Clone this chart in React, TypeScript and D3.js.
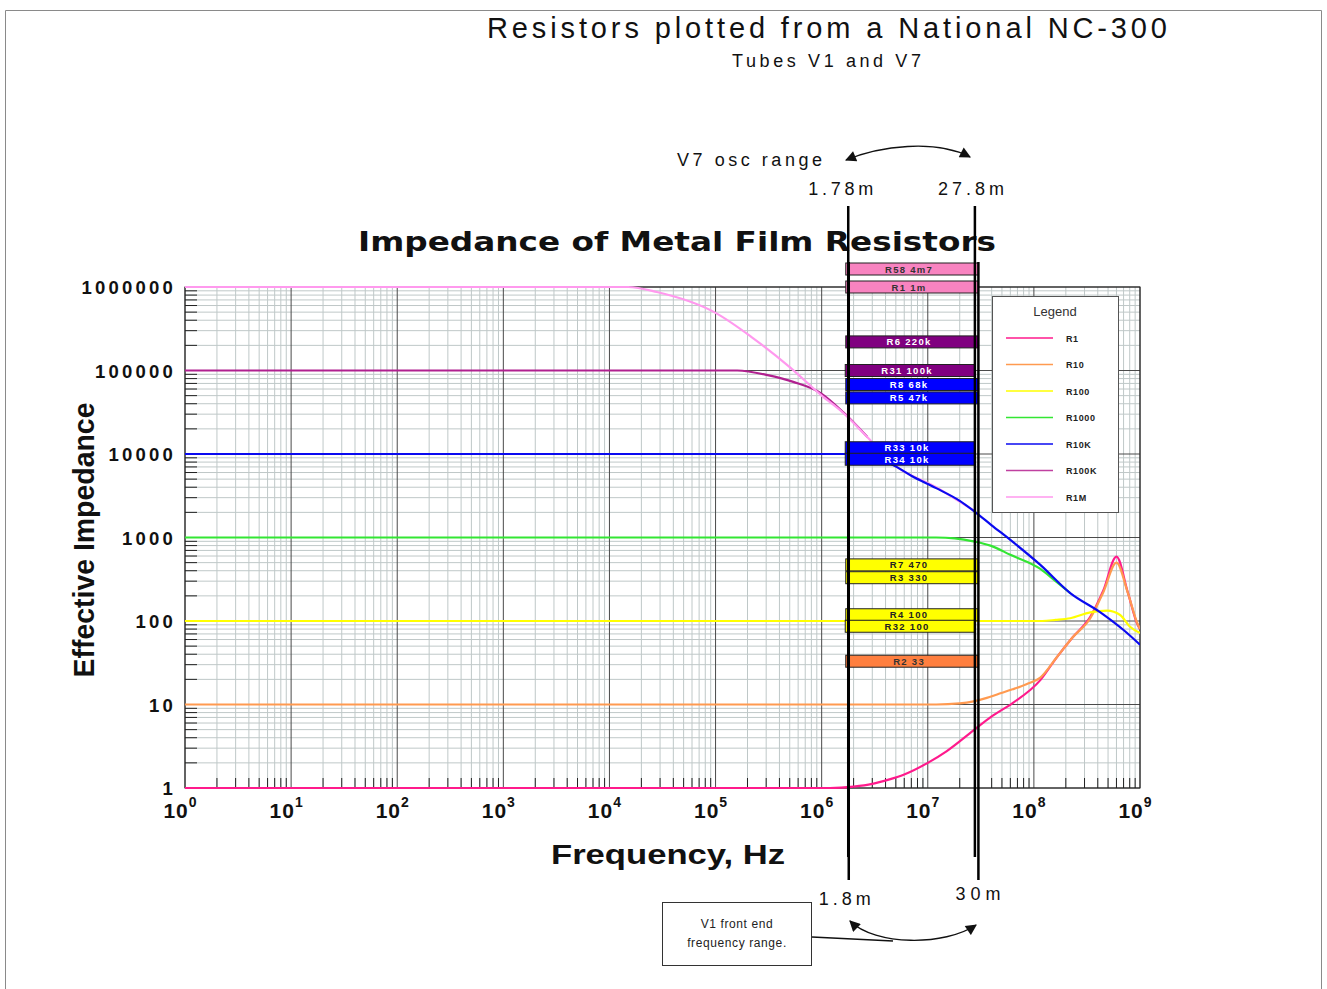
import React from 'react';
import * as d3 from 'd3';

const W = 1327;
const H = 989;

// ---- Series (frequency in Hz, effective impedance in ohms) ----
const legendNames = ['R1', 'R10', 'R100', 'R1000', 'R10K', 'R100K', 'R1M'];
const legendColors = ['#ff1a8c', '#ff9a50', '#ffff00', '#33e633', '#0a0af0', '#c040a0', '#ff99ee'];

const r1Freq = [1, 1.2e6, 2e6, 3e6, 4.2e6, 6e6, 1e7, 1.5e7, 2.7e7, 4e7, 6.3e7, 1.15e8, 1.65e8, 2.3e8, 3.4e8, 4.5e8, 6e8, 7.7e8, 9.5e8, 1e9];
const r1Ohm = [1, 1, 1.04, 1.12, 1.25, 1.45, 2.0, 2.75, 4.9, 7.2, 10.4, 19.6, 37, 63, 112, 230, 590, 217, 90, 80];

const r10Freq = [1, 1.2e7, 2e7, 2.7e7, 3.6e7, 4.5e7, 6.3e7, 8.5e7, 1.15e8, 1.65e8, 2.3e8, 3.4e8, 4.5e8, 6e8, 7.7e8, 9.5e8, 1e9];
const r10Ohm = [10, 10, 10.3, 10.9, 12, 13.2, 15.2, 17.5, 21, 37, 63, 108, 220, 500, 215, 92, 80];

const r100Freq = [1, 1.2e8, 1.6e8, 2.2e8, 3.4e8, 4.9e8, 6.5e8, 8e8, 1e9];
const r100Ohm = [100, 100, 103, 108, 127, 133, 118, 86, 72];

const r1000Freq = [1, 1.2e7, 1.8e7, 2.7e7, 3.9e7, 6e7, 1.15e8, 1.6e8, 2.2e8];
const r1000Ohm = [1000, 1000, 975, 900, 800, 620, 420, 300, 216];

const r10kFreq = [1, 2.2e6, 2.8e6, 3.5e6, 4.7e6, 7e6, 1.2e7, 2e7, 2.8e7, 4e7, 6e7, 1.15e8, 2.2e8, 4.2e8, 7e8, 1e9];
const r10kOhm = [10000, 10000, 9700, 8600, 7400, 5500, 3900, 2750, 2020, 1400, 935, 470, 216, 128, 78, 52];

const r100kFreq = [1, 1.6e5, 3.1e5, 5.4e5, 9.7e5, 1.6e6, 2.7e6];
const r100kOhm = [100000, 100000, 88000, 73000, 54000, 31600, 16000];

const r1mFreq = [1, 1.5e4, 2.8e4, 1e5, 2.2e5, 5e5, 1e6, 1.6e6, 2.7e6, 4.7e6, 1.2e7, 2.8e7];
const r1mOhm = [1e6, 1e6, 870000, 490000, 250000, 110000, 50000, 31000, 15900, 7600, 4000, 2050];

// ---- Resistor annotations (parts in the NC-300) ----
const partLabels = ['R58 4m7', 'R1 1m', 'R6 220k', 'R31 100k', 'R8 68k', 'R5 47k', 'R33 10k', 'R34 10k', 'R7 470', 'R3 330', 'R4 100', 'R32 100', 'R2 33'];
const partValues = [4.7e6, 1e6, 220e3, 100e3, 68e3, 47e3, 10e3, 10e3, 470, 330, 100, 100, 33];
const partStage = ['V1', 'V1', 'V1', 'V7', 'V1', 'V1', 'V7', 'V7', 'V1', 'V1', 'V1', 'V7', 'V1'];
const partKind = ['pink', 'pink', 'purple', 'purple', 'blue', 'blue', 'blue', 'blue', 'yellow', 'yellow', 'yellow', 'yellow', 'orange'];

// ---- Frequency ranges (Hz) ----
const oscRange = [1.78e6, 27.8e6];
const oscLabels = ['1.78m', '27.8m'];
const frontRange = [1.8e6, 30e6];
const frontLabels = ['1.8m', '30m'];

// ---- Axis ticks ----
const yTickValues = [1, 10, 100, 1000, 10000, 100000, 1000000];
const yTickLabels = ['1', '10', '100', '1000', '10000', '100000', '1000000'];
const xTickExponents = [0, 1, 2, 3, 4, 5, 6, 7, 8, 9];

const kindFill: Record<string, string> = {
  pink: '#f883c0', purple: '#800080', blue: '#0000ff', yellow: '#ffff00', orange: '#ff7f3f',
};
const kindText: Record<string, string> = {
  pink: '#333', purple: '#fff', blue: '#fff', yellow: '#222', orange: '#333',
};

const FONT = "'Liberation Sans', Arial, Helvetica, sans-serif";

export default function App() {
  const x = d3.scaleLog().domain([1, 1e9]).range([185, 1140]);
  const y = d3.scaleLog().domain([1, 1e6]).range([788, 287]);
  const [x0, x1] = x.range();
  const [yb, yt] = y.range();

  const series = [
    { name: 'R1', f: r1Freq, z: r1Ohm },
    { name: 'R10', f: r10Freq, z: r10Ohm },
    { name: 'R100', f: r100Freq, z: r100Ohm },
    { name: 'R1000', f: r1000Freq, z: r1000Ohm },
    { name: 'R100K', f: r100kFreq, z: r100kOhm },
    { name: 'R1M', f: r1mFreq, z: r1mOhm },
    { name: 'R10K', f: r10kFreq, z: r10kOhm },
  ];
  const colorOf = (n: string) => legendColors[legendNames.indexOf(n)];
  const drawColor: Record<string, string> = { R100K: '#b0208f' };

  const line = d3
    .line<[number, number]>()
    .x((d) => x(d[0]))
    .y((d) => y(d[1]))
    .curve(d3.curveMonotoneX);

  // grid values
  const xGrid: { v: number; major: boolean }[] = [];
  for (let k = 0; k < 9; k++) for (let m = 1; m <= 9; m++) xGrid.push({ v: m * Math.pow(10, k), major: m === 1 });
  xGrid.push({ v: 1e9, major: true });
  const yGrid: { v: number; major: boolean }[] = [];
  for (let k = 0; k < 6; k++) for (let m = 1; m <= 9; m++) yGrid.push({ v: m * Math.pow(10, k), major: m === 1 });
  yGrid.push({ v: 1e6, major: true });

  // bar layout
  const barH = 12;
  const centers = partValues.map((v) => (v > 1e6 ? y(1e6) - 18 : y(v)));
  const barY = centers.map((c, i) => {
    const same = partValues.map((v, j) => j).filter((j) => partValues[j] === partValues[i] && partValues[i] <= 1e6);
    if (same.length > 1) {
      const idx = same.indexOf(i);
      return c - ((same.length - 1) * (barH - 0.5)) / 2 + idx * (barH - 0.5) - barH / 2 - 0.5;
    }
    return c - barH / 2;
  });

  const legendRowY = (i: number) => 338 + i * 26.5;

  return (
    <svg
      width={W}
      height={H}
      viewBox={`0 0 ${W} ${H}`}
      style={{ position: 'absolute', left: 0, top: 0, background: '#fff' }}
      fontFamily={FONT}
    >
      <defs>
        <clipPath id="plotClip">
          <rect x={x0} y={yt - 3} width={x1 - x0} height={yb - yt + 6} />
        </clipPath>
        <marker id="arr" viewBox="0 0 10 10" refX="9" refY="5" markerWidth="13" markerHeight="11" markerUnits="userSpaceOnUse" orient="auto-start-reverse">
          <path d="M0,0 L10,5 L0,10 z" fill="#111" />
        </marker>
      </defs>
      <rect x={0} y={0} width={W} height={H} fill="#fff" />
      {/* page border */}
      <path d={`M5.5,${H} V10.5 H1321.5 V${H}`} fill="none" stroke="#8a8a8a" strokeWidth={1} />

      {/* titles */}
      <text x={487} y={38} fontSize={29} fill="#111" textLength={680} lengthAdjust="spacing">
        Resistors plotted from a National NC-300
      </text>
      <text x={732} y={67} fontSize={18} fill="#111" textLength={189} lengthAdjust="spacing">
        Tubes V1 and V7
      </text>
      <text x={677} y={166} fontSize={18} fill="#111" textLength={145} lengthAdjust="spacing">
        V7 osc range
      </text>
      <text x={x(oscRange[0]) - 40} y={195} fontSize={18} fill="#111" textLength={65} lengthAdjust="spacing">
        {oscLabels[0]}
      </text>
      <text x={x(oscRange[1]) - 37} y={195} fontSize={18} fill="#111" textLength={66} lengthAdjust="spacing">
        {oscLabels[1]}
      </text>
      <text x={358} y={251} fontSize={27} fontWeight="bold" fontFamily="'DejaVu Sans', Arial, sans-serif" fill="#111" textLength={638} lengthAdjust="spacingAndGlyphs">
        Impedance of Metal Film Resistors
      </text>

      {/* grid */}
      <g>
        {xGrid.filter((g) => !g.major).map((g, i) => (
          <line key={'xm' + i} x1={x(g.v)} x2={x(g.v)} y1={yt} y2={yb} stroke="#bfc8c8" strokeWidth={1} />
        ))}
        {yGrid.filter((g) => !g.major).map((g, i) => (
          <line key={'ym' + i} x1={x0} x2={x1} y1={y(g.v)} y2={y(g.v)} stroke="#bfc8c8" strokeWidth={1} />
        ))}
        {xGrid.filter((g) => g.major).map((g, i) => (
          <line key={'xM' + i} x1={x(g.v)} x2={x(g.v)} y1={yt} y2={yb} stroke="#4a4a4a" strokeWidth={1} />
        ))}
        {yGrid.filter((g) => g.major).map((g, i) => (
          <line key={'yM' + i} x1={x0} x2={x1} y1={y(g.v)} y2={y(g.v)} stroke="#4a4a4a" strokeWidth={1} />
        ))}
        {/* minor ticks */}
        {xGrid.filter((g) => !g.major).map((g, i) => (
          <line key={'xt' + i} x1={x(g.v)} x2={x(g.v)} y1={yb - 10} y2={yb} stroke="#222" strokeWidth={1} />
        ))}
        {yGrid.filter((g) => !g.major).map((g, i) => (
          <line key={'yt' + i} x1={x0} x2={x0 + 12} y1={y(g.v)} y2={y(g.v)} stroke="#222" strokeWidth={1} />
        ))}
        <rect x={x0} y={yt} width={x1 - x0} height={yb - yt} fill="none" stroke="#222" strokeWidth={1} />
      </g>

      {/* curves */}
      <g clipPath="url(#plotClip)">
        {series.map((s) => (
          <path
            key={s.name}
            d={line(s.f.map((f, i) => [f, s.z[i]] as [number, number])) || ''}
            fill="none"
            stroke={drawColor[s.name] || colorOf(s.name)}
            strokeWidth={2.2}
            strokeLinejoin="round"
          />
        ))}
      </g>

      {/* y tick labels */}
      {yTickValues.map((v, i) => (
        <text key={'yl' + i} x={176} y={y(v) + 7} fontSize={18.5} fontWeight="bold" textAnchor="end" letterSpacing={3.2} fill="#111">
          {yTickLabels[i]}
        </text>
      ))}
      {/* x tick labels */}
      {xTickExponents.map((e) => (
        <text key={'xl' + e} x={x(Math.pow(10, e)) - 5} y={818} fontSize={21} fontWeight="bold" textAnchor="middle" fill="#111">
          <tspan letterSpacing={1}>10</tspan>
          <tspan fontSize={14} dy={-11}>{e}</tspan>
        </text>
      ))}
      <text x={551} y={864} fontSize={27} fontWeight="bold" fill="#111" textLength={234} lengthAdjust="spacingAndGlyphs">
        Frequency, Hz
      </text>
      <text
        transform="translate(94,540) rotate(-90)"
        x={0}
        y={0}
        fontSize={30}
        fontWeight="bold"
        textAnchor="middle"
        fill="#111"
        textLength={275}
        lengthAdjust="spacingAndGlyphs"
      >
        Effective Impedance
      </text>

      {/* resistor bars */}
      {partLabels.map((lab, i) => {
        const r = partStage[i] === 'V7' ? oscRange : frontRange;
        const bx0 = x(r[0]) - 3;
        const bx1 = x(r[1]);
        const k = partKind[i];
        return (
          <g key={'bar' + i}>
            <rect x={bx0} y={barY[i]} width={bx1 - bx0} height={barH} fill={kindFill[k]} stroke="#222" strokeWidth={1} />
            <text
              x={(bx0 + bx1) / 2 - 3}
              y={barY[i] + barH / 2 + 3.5}
              fontSize={9.5}
              fontWeight="bold"
              textAnchor="middle"
              letterSpacing={1.3}
              fill={kindText[k]}
            >
              {lab}
            </text>
          </g>
        );
      })}

      {/* legend */}
      <g>
        <rect x={992.5} y={296.5} width={126} height={216} fill="#fff" stroke="#555" strokeWidth={1} />
        <text x={1055} y={316} fontSize={13} textAnchor="middle" fill="#333">
          Legend
        </text>
        {legendNames.map((n, i) => (
          <g key={'lg' + n}>
            <line x1={1006} x2={1053} y1={legendRowY(i)} y2={legendRowY(i)} stroke={legendColors[i]} strokeWidth={1.6} />
            <text x={1066} y={legendRowY(i) + 3.5} fontSize={9} fontWeight="bold" fill="#222" letterSpacing={0.6}>
              {n}
            </text>
          </g>
        ))}
      </g>

      {/* range lines */}
      <line x1={x(oscRange[0])} x2={x(oscRange[0])} y1={206} y2={857} stroke="#000" strokeWidth={2.5} />
      <line x1={x(oscRange[1])} x2={x(oscRange[1])} y1={206} y2={857} stroke="#000" strokeWidth={2.5} />
      <line x1={x(frontRange[0])} x2={x(frontRange[0])} y1={262} y2={880} stroke="#000" strokeWidth={2.5} />
      <line x1={x(frontRange[1])} x2={x(frontRange[1])} y1={262} y2={880} stroke="#000" strokeWidth={2.5} />

      {/* bottom labels */}
      <text x={x(frontRange[0]) - 30} y={905} fontSize={18} fill="#111" textLength={52} lengthAdjust="spacing">
        {frontLabels[0]}
      </text>
      <text x={x(frontRange[1]) - 23} y={900} fontSize={18} fill="#111" textLength={45} lengthAdjust="spacing">
        {frontLabels[1]}
      </text>

      {/* arrows */}
      <path d="M846,160 C880,146 935,139 970,157" fill="none" stroke="#111" strokeWidth={1.3} markerStart="url(#arr)" markerEnd="url(#arr)" />
      <path d="M850,921 C875,946 945,946 976,925" fill="none" stroke="#111" strokeWidth={1.3} markerStart="url(#arr)" markerEnd="url(#arr)" />
      <path d="M812,937 L893,941" fill="none" stroke="#111" strokeWidth={1.3} />

      {/* note box */}
      <rect x={662.5} y={902.5} width={149} height={63} fill="#fff" stroke="#333" strokeWidth={1} />
      <text x={737} y={928} fontSize={12} textAnchor="middle" fill="#222" letterSpacing={0.6}>
        V1 front end
      </text>
      <text x={737} y={947} fontSize={12} textAnchor="middle" fill="#222" letterSpacing={0.6}>
        frequency range.
      </text>
    </svg>
  );
}
